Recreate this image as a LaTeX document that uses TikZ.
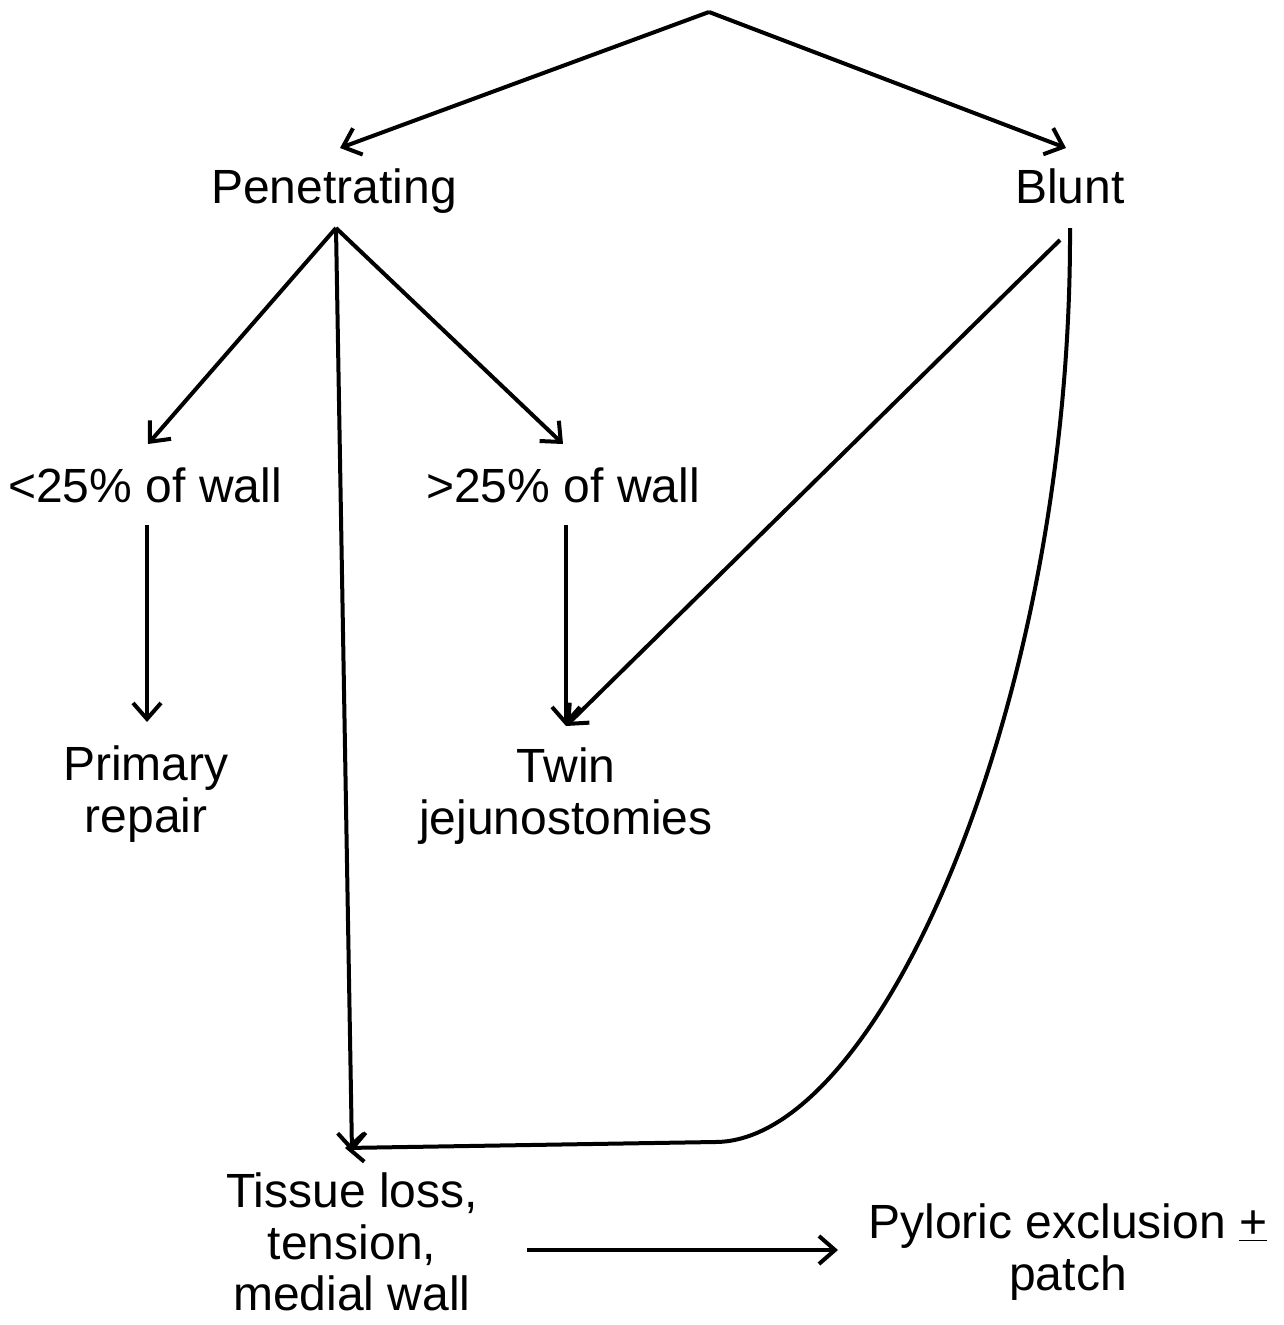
\documentclass[tikz,border=0pt]{standalone}
\usepackage{fontspec}
\setmainfont{Liberation Sans}
\usetikzlibrary{arrows.meta}
\begin{document}
\begin{tikzpicture}[x=0.75pt,y=-0.75pt,
  lbl/.style={inner sep=0pt,align=center,font=\fontsize{36}{38.5}\selectfont},
  conn/.style={line width=3pt,line join=miter},
  arr/.style={conn,-{Straight Barb[length=12pt,width=21pt,line width=3pt]}}]
\useasboundingbox (0,0) rectangle (1283,1325);
\coordinate (top) at (709,12);
\node[lbl,anchor=base] (pen) at (334,203) {Penetrating};
\node[lbl,anchor=base] (blunt) at (1070,203) {Blunt};
\node[lbl,anchor=base] (lt) at (145,502) {<25\% of wall};
\node[lbl,anchor=base] (gt) at (563,502) {>25\% of wall};
\node[lbl] (prim) at (146,794) {Primary\\repair};
\node[lbl] (twin) at (566,796) {Twin\\jejunostomies};
\node[lbl] (tiss) at (352,1242) {Tissue loss,\\tension,\\medial wall};
\node[lbl] (pyl) at (1068,1252) {Pyloric exclusion \underline{+}\\patch};
\coordinate (penS) at (336,228);
\coordinate (bluntS) at (1070,228);
\coordinate (bluntS2) at (1060,240);
\coordinate (cv) at (715,1142);
\draw[arr] (top) -- (340,148);
\draw[arr] (top) -- (1066,148);
\draw[arr] (penS) -- (148,444);
\draw[arr] (penS) -- (563,444);
\draw[arr] (penS) -- (352,1152);
\draw[arr] (147,525) -- (147,722);
\draw[arr] (566,525) -- (566,726);
\draw[arr] (bluntS2) -- (566,726);
\draw[arr] (bluntS) .. controls (1072,700) and (880,1142) .. (cv) -- (345,1148);
\draw[arr] (527,1250) -- (838,1250);
\end{tikzpicture}
\end{document}
